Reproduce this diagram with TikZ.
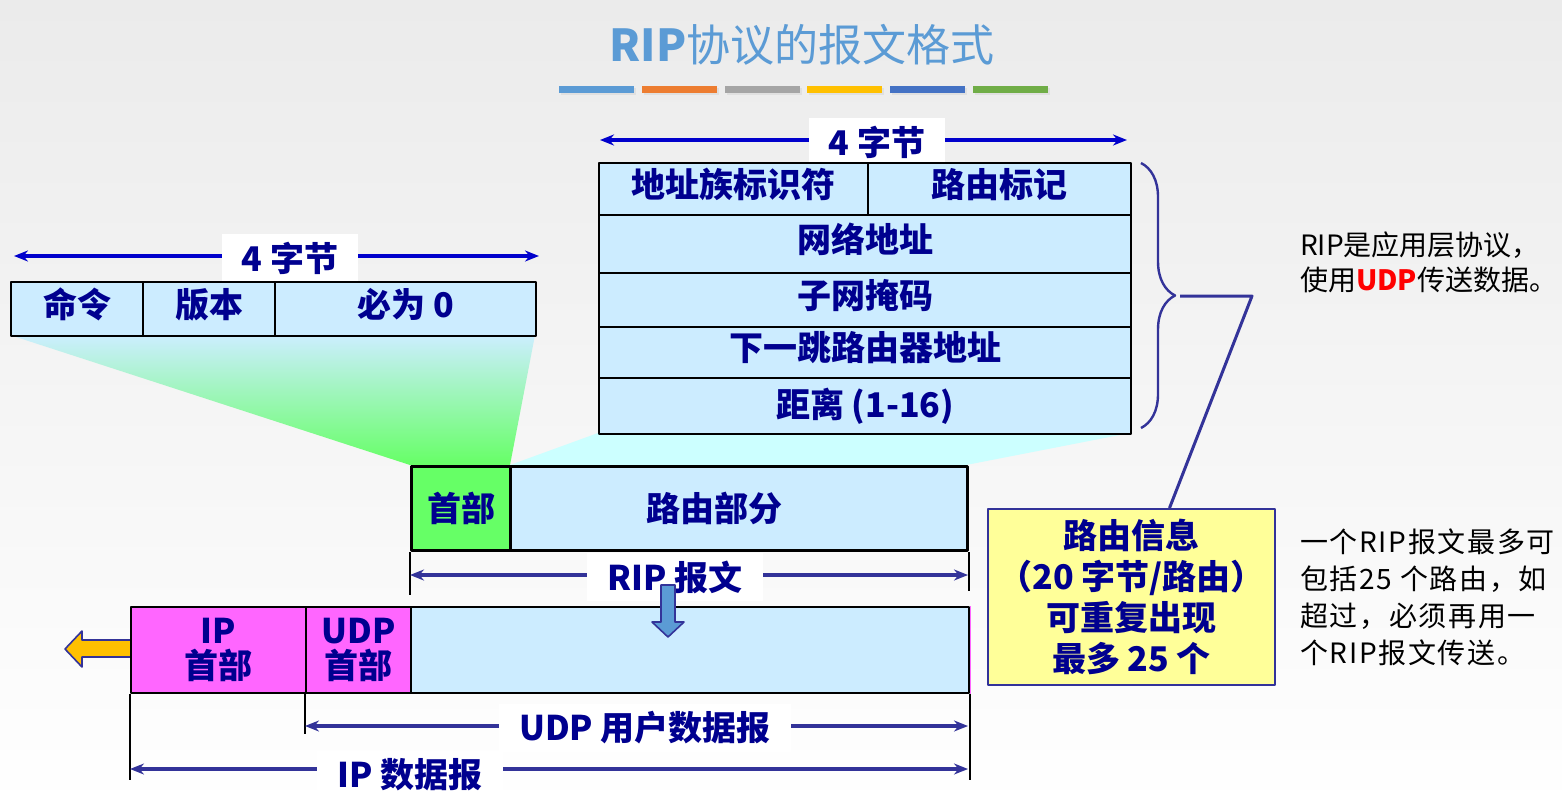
\documentclass[tikz,border=0pt]{standalone}
\usepackage{fontspec}
\setmainfont{Noto Sans CJK SC}
\usetikzlibrary{arrows.meta,calc,decorations.pathreplacing}
\definecolor{navy}{HTML}{00008F}
\definecolor{cellblue}{HTML}{CCECFF}
\definecolor{hdrgreen}{HTML}{66FF66}
\definecolor{hdrpink}{HTML}{FF66FF}
\definecolor{noteyellow}{HTML}{FFFF99}
\definecolor{titleblue}{HTML}{5B9BD5}
\definecolor{dimblue}{HTML}{333399}
\definecolor{byteblue}{HTML}{0000CC}
\definecolor{arrowyellow}{HTML}{FFC000}
\definecolor{barorange}{HTML}{ED7D31}
\definecolor{bargray}{HTML}{A5A5A5}
\definecolor{baryellow}{HTML}{FFC000}
\definecolor{barblue}{HTML}{4472C4}
\definecolor{bargreen}{HTML}{70AD47}
\definecolor{bgtop}{HTML}{EBEBEB}
\definecolor{fanblue}{HTML}{CCEEFF}
\definecolor{fancyan}{HTML}{CCFFFF}
\begin{document}
\begin{tikzpicture}[x=0.5pt,y=-0.5pt,line join=round,>={Stealth[length=7pt,width=5.5pt]},
  font=\bfseries\fontsize{17}{20}\selectfont,
  cell/.style={draw=black,line width=1.1pt,fill=cellblue,text=navy,inner sep=0pt,anchor=north west},
  up/.style={text height=10pt,text depth=2pt},
  dim/.style={dimblue,line width=1.8pt},
  bytes/.style={byteblue,line width=1.7pt},
  tag/.style={fill=white,text=navy,inner xsep=10pt,inner ysep=4pt},
  tick/.style={black,line width=1pt}]
\useasboundingbox (0,0) rectangle (1562,810);
\shade[top color=bgtop,bottom color=white] (0,0) rectangle (1562,810);
\node[text=titleblue,font=\fontsize{22}{26}\selectfont] (title) at (802,45) {\textbf{RIP}协议的报文格式};
\foreach \c [count=\i from 0] in {titleblue,barorange,bargray,baryellow,barblue,bargreen}{
  \fill[black!12] (561+82.8*\i,88) rectangle ++(75,7);
  \fill[\c] (559+82.8*\i,86) rectangle ++(75,7);
}
\shade[top color=fanblue,bottom color=hdrgreen] (10,335) -- (535,335) -- (510,465) -- (410,465) -- cycle;
\fill[fancyan] (598,433) -- (1130,433) -- (966,465) -- (510,465) -- cycle;
\coordinate (tbL) at (600,140);
\coordinate (tbR) at (1127,140);
\draw[bytes,<->] (tbL) -- (tbR);
\node[tag] (topbytes) at (877,142) {4 字节};
\node[cell,up,minimum width=134.5pt,minimum height=26pt] (afi) at (598,162) {地址族标识符};
\node[cell,up,minimum width=131.5pt,minimum height=26pt] (rtag) at (867,162) {路由标记};
\node[cell,up,minimum width=266pt,minimum height=29pt] (net) at (598,214) {网络地址};
\node[cell,up,minimum width=266pt,minimum height=27pt] (mask) at (598,272) {子网掩码};
\node[cell,up,minimum width=266pt,minimum height=25.5pt] (hop) at (598,326) {下一跳路由器地址};
\node[cell,minimum width=266pt,minimum height=28pt] (dist) at (598,377) {距离 (1-16)};
\coordinate (lbL) at (14,256);
\coordinate (lbR) at (539,256);
\draw[bytes,<->] (lbL) -- (lbR);
\node[tag] (leftbytes) at (290,258) {4 字节};
\node[cell,up,minimum width=66pt,minimum height=27pt] (cmd) at (10,281) {命令};
\node[cell,up,minimum width=66pt,minimum height=27pt] (ver) at (142,281) {版本};
\node[cell,up,minimum width=130.5pt,minimum height=27pt] (zero) at (274,281) {必为 0};
\node[cell,fill=hdrgreen,line width=1.5pt,minimum width=49.5pt,minimum height=42pt] (hdr) at (410,465) {首部};
\node[cell,line width=1.5pt,minimum width=228.5pt,minimum height=42pt,label={[text=navy,xshift=-12.5pt]center:路由部分}] (route) at (509,465) {};
\draw[tick] (hdr.south west) -- ++(0,43);
\draw[tick] (route.south east) -- ++(0,39);
\coordinate (ripL) at (410,575);
\coordinate (ripR) at (968,575);
\draw[dim,<->] (ripL) -- (ripR);
\node[tag] (riplbl) at (675,577) {RIP 报文};
\filldraw[draw=dimblue,fill=arrowyellow,line width=0.8pt] (131,640) -- (82,640) -- (82,631) -- (65,649) -- (82,667) -- (82,657) -- (131,657) -- cycle;
\node[cell,fill=hdrpink,minimum width=87.5pt,minimum height=43pt,align=center,font=\bfseries\fontsize{17}{17.5}\selectfont] (iph) at (130,606) {IP\\首部};
\node[cell,fill=hdrpink,minimum width=52.5pt,minimum height=43pt,align=center,font=\bfseries\fontsize{17}{17.5}\selectfont] (udph) at (305,606) {UDP\\首部};
\node[cell,minimum width=279pt,minimum height=43pt] (data) at (410,606) {};
\draw[hdrpink,line width=0.6pt] (data.north east) -- (data.south east);
\filldraw[draw=dimblue,fill=titleblue,line width=0.8pt] (661,585) -- (675,585) -- (675,622) -- (684,622) -- (668,637) -- (652,622) -- (661,622) -- cycle;
\draw[tick] (iph.south west) -- ++(0,86);
\draw[tick] (udph.south west) -- ++(0,40);
\draw[tick] (data.south east) -- ++(0,86);
\coordinate (udpL) at (305,726);
\coordinate (udpR) at (968,726);
\draw[dim,<->] (udpL) -- (udpR);
\node[tag] (udplbl) at (645,728) {UDP 用户数据报};
\coordinate (ipL) at (130,769);
\coordinate (ipR) at (968,769);
\draw[dim,<->] (ipL) -- (ipR);
\node[tag] (iplbl) at (410,775) {IP 数据报};
\draw[dimblue,line width=1.2pt,decorate,decoration={brace,amplitude=17pt}] (1141,163) -- (1141,428);
\node[draw=dimblue,fill=noteyellow,line width=1pt,minimum width=143.5pt,minimum height=88pt,align=center,text=navy,font=\bfseries\fontsize{17}{20.5}\selectfont] (note) at (1131.5,597) {路由信息\\（20 字节/路由）\\可重复出现\\最多 25 个};
\coordinate (brtip) at (1180,296);
\coordinate (bend) at (1252,296);
\draw[dimblue,line width=1.5pt] (brtip) -- (bend) -- ($(note.north)+(38,0)$);
\node[anchor=west,align=left,font=\fontsize{14}{17.5}\selectfont] (appnote) at (1293,262) {RIP是应用层协议，\\使用\textcolor{red}{\textbf{UDP}}传送数据。};
\node[anchor=west,align=left,font=\fontsize{14}{18.5}\selectfont\addfontfeature{LetterSpace=6}] (limitnote) at (1293,597) {一个RIP报文最多可\\包括25 个路由，如\\超过，必须再用一\\个RIP报文传送。};
\end{tikzpicture}
\end{document}
